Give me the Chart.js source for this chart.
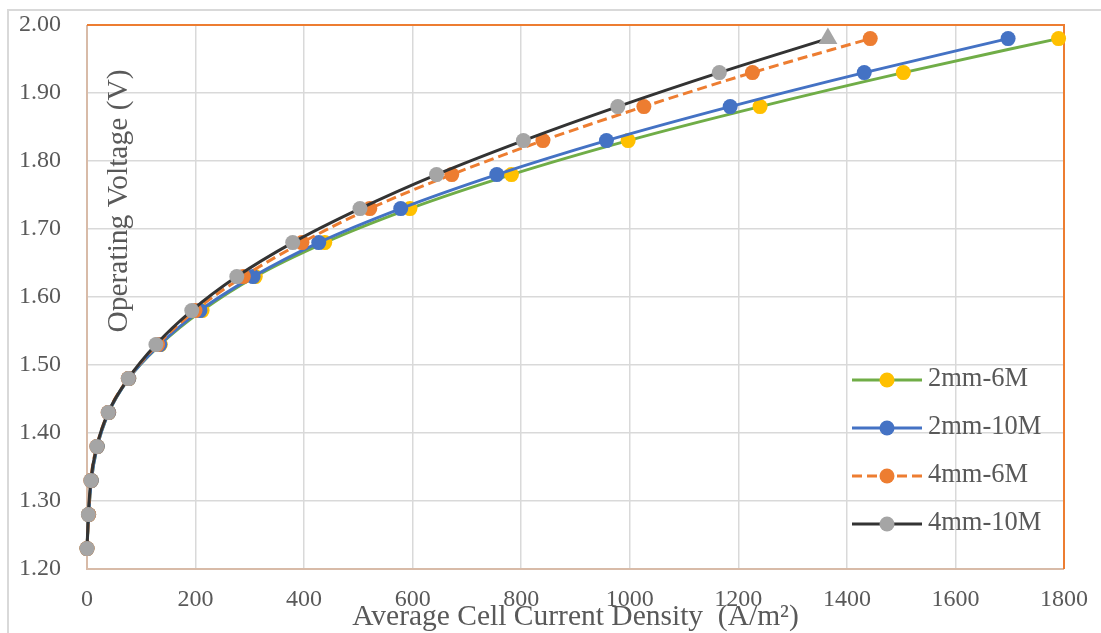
<!DOCTYPE html>
<html>
<head>
<meta charset="utf-8">
<script src="https://cdn.jsdelivr.net/npm/chart.js@4.4.1/dist/chart.umd.min.js"></script>
<style>
  html, body { margin: 0; padding: 0; background: #fff; }
  #wrap { width: 1101px; height: 633px; }
</style>
</head>
<body>
<div id="wrap"><canvas id="polChart" width="1101" height="633"></canvas></div>
<script>
// operating voltage steps (V), shared by every curve
const voltage = [1.23, 1.28, 1.33, 1.38, 1.43, 1.48, 1.53, 1.58, 1.63, 1.68, 1.73, 1.78, 1.83, 1.88, 1.93, 1.98];

// average cell current density (A/m2) at each voltage step
const cd2mm6M  = [0, 3, 8, 19, 40, 77, 135, 212, 310, 438, 595, 782, 997, 1240, 1504, 1790];
const cd2mm10M = [0, 3, 8, 19, 40, 77, 134, 208, 306, 427, 578, 755, 957, 1185, 1432, 1697];
const cd4mm6M  = [0, 3, 7, 18, 39, 76, 130, 199, 288, 396, 521, 672, 840, 1026, 1226, 1443];
const cd4mm10M = [0, 2.5, 7, 18, 39, 76, 127, 193, 276, 379, 503, 644, 804, 978, 1165, 1365];

const seriesNames = ['2mm-6M', '2mm-10M', '4mm-6M', '4mm-10M'];

const FONT = "'Liberation Serif', 'Times New Roman', serif";
const TXT = '#595959';
const GRID = '#d9d9d9';

const toPoints = (xs) => xs.map((x, i) => ({ x: x, y: voltage[i] }));

// last point of the 4mm-10M run is marked with a (bigger) triangle
const isLast = (i) => i === voltage.length - 1;
const grayStyles = voltage.map((v, i) => isLast(i) ? 'triangle' : 'circle');
const grayRadius = voltage.map((v, i) => isLast(i) ? 11 : 7.5);

const series = [
    { label: seriesNames[0], data: toPoints(cd2mm6M),  line: '#70ad47', dot: '#ffc000', dash: [], order: 4 },
    { label: seriesNames[1], data: toPoints(cd2mm10M), line: '#4472c4', dot: '#4472c4', dash: [], order: 3 },
    { label: seriesNames[2], data: toPoints(cd4mm6M),  line: '#ed7d31', dot: '#ed7d31', dash: [10, 5], order: 2 },
    { label: seriesNames[3], data: toPoints(cd4mm10M), line: '#333333', dot: '#a5a5a5', dash: [], order: 1,
      style: grayStyles, radius: grayRadius }
];

const datasets = series.map(s => ({
    label: s.label,
    data: s.data,
    showLine: true,
    borderColor: s.line,
    borderWidth: 3,
    borderDash: s.dash,
    cubicInterpolationMode: 'monotone',
    pointRadius: s.radius || 7.5,
    pointHoverRadius: s.radius || 7.5,
    pointBackgroundColor: s.dot,
    pointBorderColor: s.dot,
    pointBorderWidth: 0,
    pointStyle: s.style || 'circle',
    order: s.order,
    clip: 12
}));

// frame, outer border, axis titles and the in-plot legend
const decorations = {
    id: 'decorations',
    beforeDraw(chart) {
        const ctx = chart.ctx;
        ctx.save();
        ctx.strokeStyle = GRID;
        ctx.lineWidth = 2;
        ctx.strokeRect(8, 10, 1200, 700);
        ctx.restore();
    },
    beforeDatasetsDraw(chart) {
        const { ctx, chartArea: a } = chart;
        ctx.save();
        ctx.lineWidth = 2;
        ctx.strokeStyle = '#d8bba8';
        ctx.beginPath();
        ctx.moveTo(a.left, a.top);
        ctx.lineTo(a.left, a.bottom);
        ctx.lineTo(a.right, a.bottom);
        ctx.stroke();
        ctx.strokeStyle = '#ed7d31';
        ctx.beginPath();
        ctx.moveTo(a.left, a.top);
        ctx.lineTo(a.right, a.top);
        ctx.lineTo(a.right, a.bottom);
        ctx.stroke();

        ctx.fillStyle = TXT;
        ctx.font = '29.5px ' + FONT;
        ctx.textAlign = 'center';
        ctx.textBaseline = 'middle';
        ctx.fillText('Average Cell Current Density  (A/m\u00b2)', (a.left + a.right) / 2, 617);

        ctx.translate(119, 201);
        ctx.rotate(-Math.PI / 2);
        ctx.fillText('Operating Voltage (V)', 0, 0);
        ctx.restore();
    },
    afterDatasetsDraw(chart) {
        const ctx = chart.ctx;
        ctx.save();
        series.forEach((s, i) => {
            const y = 380 + i * 48;
            ctx.strokeStyle = s.line;
            ctx.lineWidth = 3;
            ctx.setLineDash(s.dash);
            ctx.beginPath();
            ctx.moveTo(852, y);
            ctx.lineTo(922, y);
            ctx.stroke();
            ctx.setLineDash([]);
            ctx.fillStyle = s.dot;
            ctx.beginPath();
            ctx.arc(887, y, 7.5, 0, Math.PI * 2);
            ctx.fill();
            ctx.fillStyle = TXT;
            ctx.font = '26.5px ' + FONT;
            ctx.textAlign = 'left';
            ctx.textBaseline = 'middle';
            ctx.fillText(s.label, 928, y - 1);
        });
        ctx.restore();
    }
};

new Chart(document.getElementById('polChart'), {
    type: 'scatter',
    data: { datasets: datasets },
    options: {
        responsive: false,
        animation: false,
        devicePixelRatio: 1,
        layout: { padding: { top: 25, right: 37, left: 0, bottom: 0 } },
        plugins: {
            legend: { display: false },
            tooltip: { enabled: false }
        },
        scales: {
            x: {
                type: 'linear',
                min: 0,
                max: 1800,
                afterFit: (scale) => { scale.height = 64; scale.paddingLeft = 0; scale.paddingRight = 0; },
                ticks: {
                    stepSize: 200,
                    color: TXT,
                    font: { family: FONT, size: 24 },
                    padding: 16,
                    maxRotation: 0,
                    callback: (v) => String(v)
                },
                grid: { color: GRID, lineWidth: 1.5, drawTicks: false },
                border: { display: false }
            },
            y: {
                type: 'linear',
                min: 1.2,
                max: 2.0,
                afterFit: (scale) => { scale.width = 87; scale.paddingTop = 0; scale.paddingBottom = 0; },
                ticks: {
                    stepSize: 0.1,
                    color: TXT,
                    font: { family: FONT, size: 24 },
                    padding: 26,
                    callback: (v) => v.toFixed(2)
                },
                grid: { color: GRID, lineWidth: 1.5, drawTicks: false },
                border: { display: false }
            }
        }
    },
    plugins: [decorations]
});
</script>
</body>
</html>
